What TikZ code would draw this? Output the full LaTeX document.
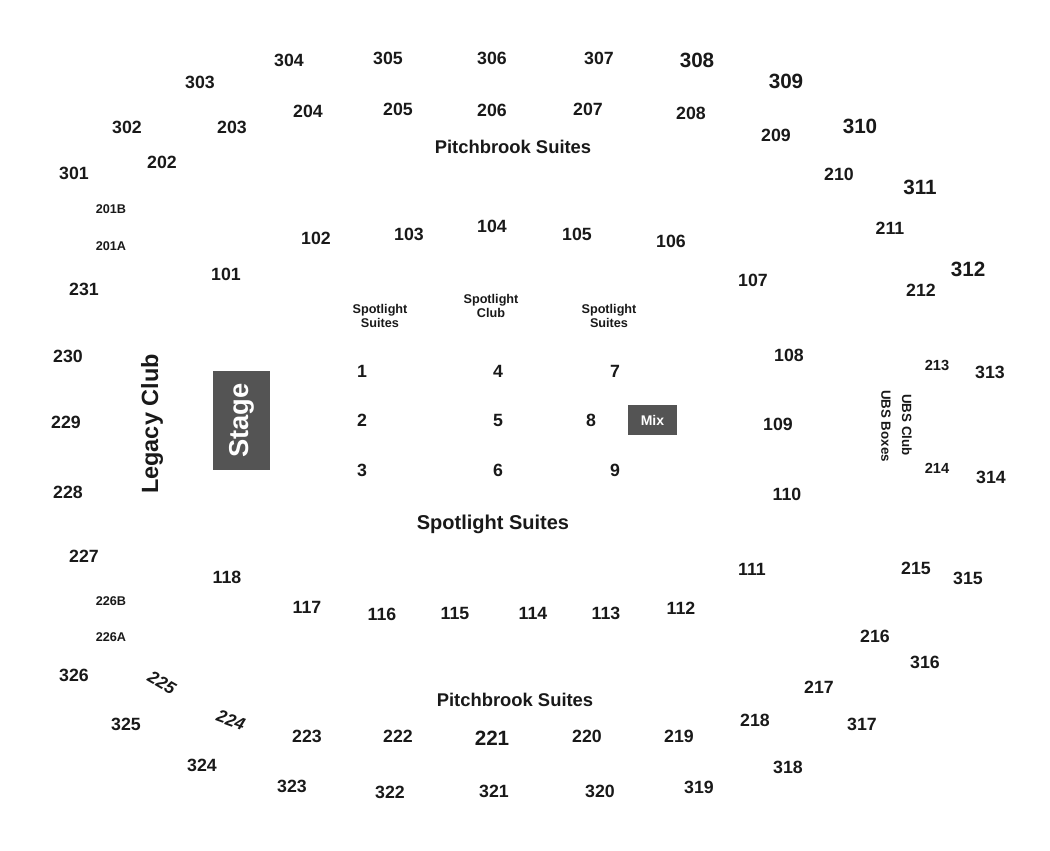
\documentclass[tikz,border=0pt]{standalone}
\usepackage{fontspec}
\setmainfont{Liberation Sans}
\begin{document}
\begin{tikzpicture}[x=0.75pt,y=-0.75pt,
  n/.style={font=\bfseries\fontsize{13.3}{15}\selectfont,text=black!90},
  sm/.style={font=\bfseries\fontsize{9.5}{11}\selectfont,text=black!90},
  lg/.style={font=\bfseries\fontsize{15.5}{18}\selectfont,text=black!90},
  lab/.style={font=\bfseries\fontsize{13.8}{15}\selectfont,text=black!90,align=center},
  slab/.style={font=\bfseries\fontsize{9.5}{10.5}\selectfont,text=black!90,align=center},
  box/.style={fill=black!67,draw=none,text=white}]
\useasboundingbox (0,0) rectangle (1050,850);
\foreach \x/\y/\t in {289/60/304,388/58/305,492/58/306,599/58/307,200/82/303,308/111/204,398/109/205,492/110/206,588/109/207,691/113/208,127/127/302,232/127/203,776/135/209,162/162/202,74/173/301,839/174/210,890/228/211,316/238/102,409/234/103,492/226/104,577/234/105,671/241/106,84/289/231,226/274/101,753/280/107,921/290/212,68/356/230,789/355/108,990/372/313,66/422/229,778/424/109,68/492/228,991/477/314,787/494/110,84/556/227,227/577/118,752/569/111,916/568/215,968/578/315,307/607/117,382/614/116,455/613/115,533/613/114,606/613/113,681/608/112,875/636/216,925/662/316,74/675/326,819/687/217,126/724/325,755/720/218,862/724/317,307/736/223,398/736/222,587/736/220,679/736/219,202/765/324,788/767/318,292/786/323,390/792/322,494/791/321,600/791/320,699/787/319,362/371/1,498/371/4,615/371/7,362/420/2,498/420/5,591/420/8,362/470/3,498/470/6,615/470/9}
  \node[n] (s\t) at (\x,\y) {\t};
\foreach \x/\y/\t in {697/60/308,786/81/309,860/126/310,920/187/311,968/269/312,492/738/221}
  \node[lg] (s\t) at (\x,\y) {\t};
\foreach \x/\y/\t in {111/209/201B,111/246/201A,111/601/226B,111/637/226A}
  \node[sm] (s\t) at (\x,\y) {\t};
\node[n,font=\bfseries\fontsize{11}{13}\selectfont] (s213) at (937,365) {213};
\node[n,font=\bfseries\fontsize{11}{13}\selectfont] (s214) at (937,468) {214};
\node[n,font=\bfseries\itshape\fontsize{13}{15}\selectfont,rotate=-30,inner sep=0] (s225) at (162,683) {225};
\node[n,font=\bfseries\itshape\fontsize{13}{15}\selectfont,rotate=-20,inner sep=0] (s224) at (231,720) {224};
\node[lab] (pb1) at (513,147) {Pitchbrook Suites};
\node[lab] (pb2) at (515,700) {Pitchbrook Suites};
\node[lab,font=\bfseries\fontsize{15}{17}\selectfont] (ss) at (493,524) {Spotlight Suites};
\node[slab] (ss1) at (380,316) {Spotlight\\Suites};
\node[slab] (sc) at (491,306) {Spotlight\\Club};
\node[slab] (ss2) at (609,316) {Spotlight\\Suites};
\node[box,minimum width=42.75pt,minimum height=74.25pt,inner sep=0] (stage) at (241.5,420.5) {};
\node[text=white,font=\bfseries\fontsize{20.5}{22}\selectfont,rotate=90] (stagel) at (stage.center) {Stage};
\node[box,minimum width=36.75pt,minimum height=22.5pt,inner sep=0,font=\bfseries\fontsize{10.5}{12}\selectfont] (mix) at (652.5,420) {Mix};
\node[lab,font=\bfseries\fontsize{17.6}{19}\selectfont,rotate=90] (legacy) at (152,424) {Legacy Club};
\node[slab,font=\bfseries\fontsize{10}{11}\selectfont,rotate=-90] (ubs1) at (907,425) {UBS Club};
\node[slab,font=\bfseries\fontsize{10}{11}\selectfont,rotate=-90] (ubs2) at (886,426) {UBS Boxes};
\end{tikzpicture}
\end{document}
